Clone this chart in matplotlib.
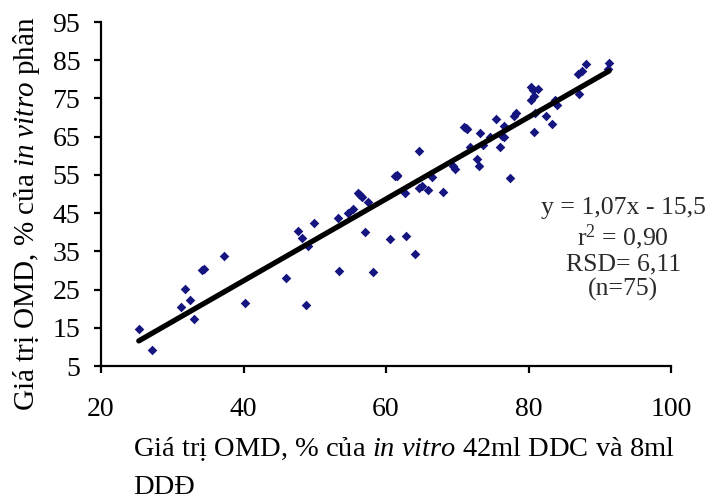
import matplotlib
matplotlib.use("Agg")
import matplotlib.pyplot as plt
import numpy as np

plt.rcParams['font.family'] = ['Liberation Serif', 'DejaVu Serif']
plt.rcParams['mathtext.fontset'] = 'custom'
plt.rcParams['mathtext.rm'] = 'Liberation Serif'
plt.rcParams['mathtext.it'] = 'Liberation Serif:italic'

x_vals = [25.3, 27.1, 31.2, 31.8, 32.5, 33.1, 34.2, 34.5, 37.2, 40.2,
          46.0, 47.6, 48.2, 48.7, 49.1, 49.9, 53.2, 53.4, 54.6, 55.4,
          56.1, 56.6, 57.1, 57.5, 58.2, 60.5, 61.3, 61.6, 62.8, 62.7,
          64.1, 64.6, 64.6, 65.9, 66.4, 68.0, 69.4, 69.7, 71.0, 71.3,
          71.8, 72.8, 73.0, 73.2, 73.6, 74.6, 75.5, 76.0, 76.5, 76.6,
          77.4, 77.9, 78.2, 80.4, 80.4, 80.8, 80.8, 81.4, 80.9, 82.5,
          83.3, 83.7, 84.0, 87.0, 87.5, 87.1, 88.1, 91.3, 91.2,
          56.3, 61.5, 71.2, 80.6, 76.3, 65.0]
y_vals = [14.6, 9.2, 20.4, 25.1, 22.3, 17.2, 30.1, 30.3, 33.8, 21.6,
          28.1, 40.3, 38.6, 21.0, 36.4, 42.5, 43.8, 29.9, 45.1, 46.2,
          50.2, 49.3, 40.1, 48.0, 29.6, 38.1, 54.7, 54.7, 39.0, 50.3,
          34.3, 61.3, 51.5, 51.0, 54.5, 50.4, 57.3, 56.5, 67.5, 66.9,
          62.4, 59.1, 57.3, 66.0, 62.8, 65.0, 69.5, 62.4, 65.0, 67.8,
          54.1, 70.4, 71.3, 77.9, 74.6, 75.6, 66.3, 77.4, 71.1, 70.4,
          68.3, 74.6, 73.3, 81.4, 82.2, 76.1, 83.9, 84.4, 82.6,
          49.8, 54.9, 67.2, 77.2, 65.3, 52.0]

slope = 1.07
intercept = -15.5
x_ticks = [20, 40, 60, 80, 100]
y_ticks = [5, 15, 25, 35, 45, 55, 65, 75, 85, 95]
eq_lines = ["y = 1,07x - 15,5", "r$^2$ = 0,90", "RSD= 6,11", "(n=75)"]

fig = plt.figure(figsize=(7.05, 4.99), dpi=100)
ax = fig.add_axes([0.1433, 0.2665, 0.8085, 0.6894])

ax.scatter(x_vals, y_vals, marker='D', s=24, color='#15157f', linewidths=0, zorder=3)
xl = np.array([min(x_vals), max(x_vals)])
ax.plot(xl, slope * xl + intercept, color='black', lw=3.8, solid_capstyle='round', zorder=4)

ax.set_xlim(20, 100)
ax.set_ylim(5, 95)
ax.set_xticks(x_ticks)
ax.set_yticks(y_ticks)
for s in ['top', 'right']:
    ax.spines[s].set_visible(False)
for s in ['left', 'bottom']:
    ax.spines[s].set_linewidth(1.6)
ax.tick_params(axis='both', direction='out', length=5, width=1.6, labelsize=20, colors='black')
ax.tick_params(axis='x', pad=17)
ax.tick_params(axis='y', pad=10)

ax.text(0.916, 0.49, "\n".join(eq_lines), transform=ax.transAxes, ha='center', va='top',
        fontsize=18.5, linespacing=1.12, color='#2a2a2a')

fig.text(0.038, 1 - 214 / 499, "Giá trị OMD, % của $\\mathit{in\\ vitro}$ phân", rotation=90,
         ha='center', va='center', fontsize=21)
fig.text(133 / 705, 1 - 456 / 499, "Giá trị OMD, % của $\\mathit{in\\ vitro}$ 42ml DDC và 8ml",
         ha='left', va='baseline', fontsize=20.5)
fig.text(133 / 705, 1 - 494 / 499, "DDĐ",
         ha='left', va='baseline', fontsize=20.5)

fig.savefig("out.png", dpi=100)
